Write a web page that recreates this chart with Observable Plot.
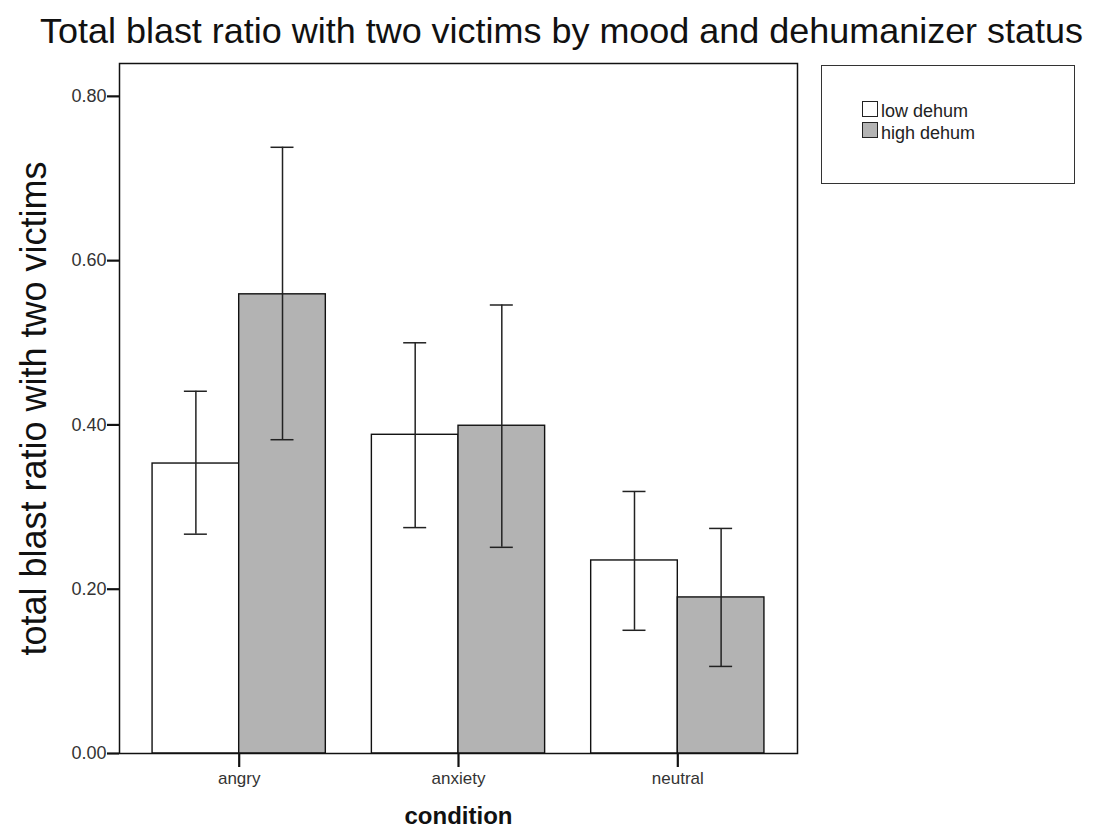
<!DOCTYPE html>
<html>
<head>
<meta charset="utf-8">
<script src="https://cdn.jsdelivr.net/npm/d3@7"></script>
<script src="https://cdn.jsdelivr.net/npm/@observablehq/plot@0.6"></script>
<style>
  html, body { margin: 0; padding: 0; background: #fff; }
  body { width: 1098px; height: 830px; position: relative; overflow: hidden;
         font-family: "Liberation Sans", Arial, sans-serif; }
  #title { position: absolute; left: 40px; top: 13px; font-size: 35px; line-height: 35px;
           white-space: nowrap; color: #111; transform-origin: 0 0; }
  #chart { position: absolute; left: 0; top: 55px; }
  #legend { position: absolute; left: 821px; top: 65px; width: 252px; height: 117px;
            border: 1.5px solid #333; background: #fff; }
  .sw { position: absolute; left: 40px; width: 14px; height: 14px; border: 1.4px solid #222; }
  .lab { position: absolute; left: 59px; font-size: 18px; line-height: 18px; color: #222; white-space: nowrap; }
</style>
</head>
<body>
<div id="title">Total blast ratio with two victims by mood and dehumanizer status</div>
<div id="chart"></div>
<div id="legend"></div>
<script>
// ---- data ----
const conditions = ["angry", "anxiety", "neutral"];
const groups = ["low dehum", "high dehum"];
const groupColors = ["#ffffff", "#b3b3b3"];
const lowMean = [0.353, 0.388, 0.235];
const lowLo   = [0.267, 0.275, 0.150];
const lowHi   = [0.441, 0.500, 0.319];
const highMean = [0.559, 0.399, 0.190];
const highLo   = [0.382, 0.251, 0.106];
const highHi   = [0.738, 0.546, 0.274];
const yTicks = [0, 0.2, 0.4, 0.6, 0.8];
const yLabel = "total blast ratio with two victims";
const xLabel = "condition";

const low = conditions.map((c, i) => ({condition: c, mean: lowMean[i], lo: lowLo[i], hi: lowHi[i]}));
const high = conditions.map((c, i) => ({condition: c, mean: highMean[i], lo: highLo[i], hi: highHi[i]}));

// ---- layout ----
const W = 1098, H = 775;
const mL = 119, mR = 301, mT = 8, mB = 77;
const pIn = 0.21, pOut = 0.1508;
const step = (W - mL - mR) / (conditions.length - pIn + 2 * pOut);
const bw = step * (1 - pIn);
const half = bw / 2, q = bw / 4, cap = 11.5;
const ink = "#222";

const plot = Plot.plot({
  width: W, height: H,
  marginLeft: mL, marginRight: mR, marginTop: mT, marginBottom: mB,
  style: {fontFamily: "'Liberation Sans', Arial, sans-serif", background: "white", color: "#111"},
  x: {domain: conditions, paddingInner: pIn, paddingOuter: pOut, round: false, axis: null},
  y: {domain: [0, 0.84], axis: null},
  marks: [
    Plot.barY(low, {x: "condition", y: "mean", fill: groupColors[0], stroke: "#111", strokeWidth: 1.4, insetRight: half}),
    Plot.barY(high, {x: "condition", y: "mean", fill: groupColors[1], stroke: "#111", strokeWidth: 1.4, insetLeft: half}),
    Plot.ruleX(low, {x: "condition", y1: "lo", y2: "hi", dx: -q, stroke: ink, strokeWidth: 1.5}),
    Plot.ruleX(high, {x: "condition", y1: "lo", y2: "hi", dx: q, stroke: ink, strokeWidth: 1.5}),
    Plot.tickY(low, {x: "condition", y: "hi", insetLeft: q - cap, insetRight: 3 * q - cap, stroke: ink, strokeWidth: 1.5}),
    Plot.tickY(low, {x: "condition", y: "lo", insetLeft: q - cap, insetRight: 3 * q - cap, stroke: ink, strokeWidth: 1.5}),
    Plot.tickY(high, {x: "condition", y: "hi", insetLeft: 3 * q - cap, insetRight: q - cap, stroke: ink, strokeWidth: 1.5}),
    Plot.tickY(high, {x: "condition", y: "lo", insetLeft: 3 * q - cap, insetRight: q - cap, stroke: ink, strokeWidth: 1.5}),
    Plot.frame({stroke: "#111", strokeWidth: 1.5}),
    Plot.axisY({ticks: yTicks, tickFormat: d => d.toFixed(2), tickSize: 12, tickPadding: 1,
                fontSize: 18, strokeWidth: 2.2, stroke: "#111", fill: "#333", label: null}),
    Plot.axisX({tickSize: 14, tickPadding: 4, fontSize: 17, strokeWidth: 2.2, stroke: "#111", fill: "#333", label: null}),
    Plot.text([yLabel], {frameAnchor: "left", textAnchor: "middle", rotate: -90, dx: -85, fontSize: 36, fill: "#111"}),
    Plot.text([xLabel], {frameAnchor: "bottom", dy: 70, fontSize: 24, fontWeight: "bold", fill: "#111"})
  ]
});
document.getElementById("chart").appendChild(plot);

// ---- legend ----
const leg = document.getElementById("legend");
groups.forEach((g, i) => {
  const s = document.createElement("div");
  s.className = "sw";
  s.style.top = (35 + i * 21) + "px";
  s.style.background = groupColors[i];
  leg.appendChild(s);
  const l = document.createElement("div");
  l.className = "lab";
  l.style.top = (36 + i * 22) + "px";
  l.textContent = g;
  leg.appendChild(l);
});

// fit title width to reference span
const t = document.getElementById("title");
const tw = t.getBoundingClientRect().width;
t.style.transform = `scaleX(${1043 / tw})`;
</script>
</body>
</html>
